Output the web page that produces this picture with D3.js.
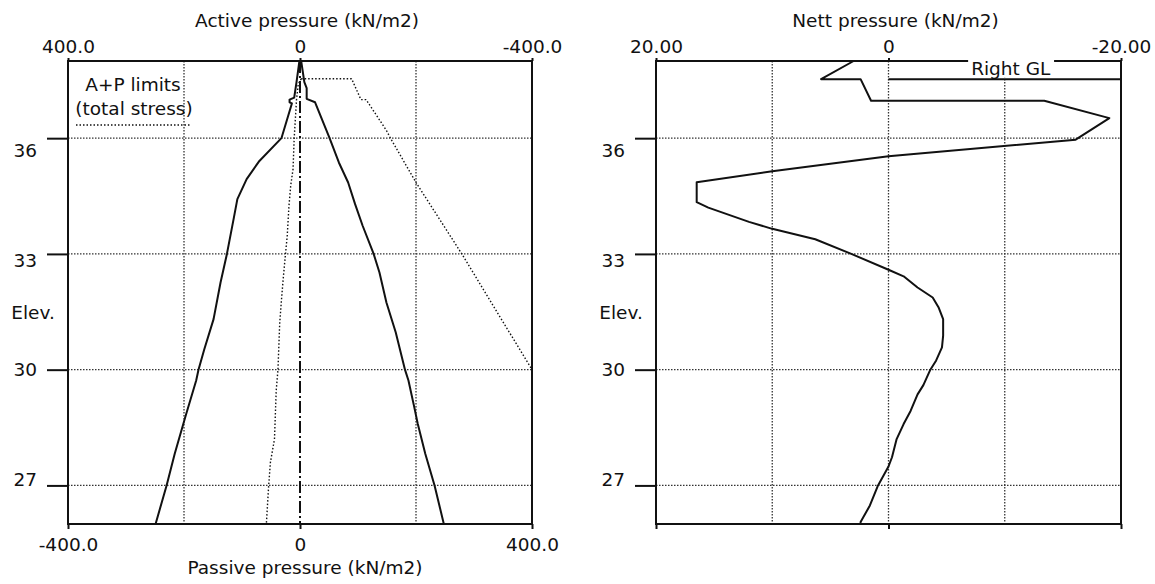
<!DOCTYPE html>
<html><head><meta charset="utf-8">
<script src="https://cdn.jsdelivr.net/npm/d3@7"></script>
<style>
body{margin:0;background:#fff}
text{font-family:"DejaVu Sans",sans-serif;font-size:18.5px;fill:#111}
</style>
</head><body>
<svg id="c" width="1155" height="584"></svg>
<script>
// ---------- data ----------
const elevDomain = [26, 38];
const elevTicks = [36, 33, 30, 27];
const elevLabel = "Elev.";

const leftTopTicks = [400, 0, -400];
const leftTopLabels = ["400.0", "0", "-400.0"];
const leftBottomTicks = [-400, 0, 400];
const leftBottomLabels = ["-400.0", "0", "400.0"];
const leftGridX = [-200, 200];
const leftTopTitle = "Active pressure (kN/m2)";
const leftBottomTitle = "Passive pressure (kN/m2)";

const rightTicks = [20, 0, -20];
const rightTopLabels = ["20.00", "0", "-20.00"];
const rightGridX = [10, 0, -10];
const rightTopTitle = "Nett pressure (kN/m2)";
const rightGLLabel = "Right GL";
const rightGL = 37.53;

const legendLines = ["A+P limits", "(total stress)"];

// [pressure, elevation]
const passiveLeft = [[-1,38],[-6,37.45],[-10,37.05],[-18,37.0],[-18,36.93],[-14,36.9],[-32,36.0],[-70,35.41],[-92,34.94],[-108,34.42],[-114,33.94],[-126,33.0],[-137,32.26],[-149,31.31],[-165,30.53],[-175,30.0],[-179,29.72],[-197,28.81],[-216,27.82],[-230,27.0],[-249,26.0]];
const activeRight = [[2,38],[7.5,37.45],[11.5,37.3],[11.5,37.02],[26,36.93],[51,36.0],[67,35.37],[83,34.85],[95,34.29],[108,33.73],[127,33.0],[137,32.52],[149,31.74],[165,30.97],[181,30.0],[187,29.72],[197,29.03],[203,28.6],[216,27.82],[232,27.0],[248,26.0]];
const limitInner = [[2,37.54],[-3,37.4],[-6,37.0],[-8,36.5],[-10,36.0],[-12,35.2],[-16,34.77],[-19,34.25],[-22,33.47],[-25,33.0],[-29,32.35],[-32,31.8],[-35,31.2],[-38,30.0],[-41,29.46],[-44,28.2],[-51,27.6],[-54,27.0],[-58,26.0]];
const limitOuter = [[2,37.54],[89,37.54],[105,37.0],[114,37.0],[149,36.2],[156,36.0],[200,34.85],[279,33.0],[400,30.0]];
const wallLine = [[0,38],[0,26]];
const nettPressure = [[3.0,38.0],[5.8,37.53],[2.4,37.53],[1.5,36.97],[-13.4,36.97],[-19.0,36.52],[-16.1,35.96],[0,35.53],[10,35.14],[16.5,34.86],[16.5,34.34],[15.5,34.2],[12.0,33.83],[10,33.65],[6.3,33.38],[3.2,33.0],[0,32.59],[-1.3,32.42],[-2.5,32.13],[-3.8,31.87],[-4.3,31.62],[-4.7,31.31],[-4.7,30.88],[-4.6,30.58],[-4.1,30.24],[-3.6,30.0],[-3.0,29.6],[-2.5,29.36],[-1.9,28.93],[-1.3,28.59],[-0.7,28.2],[-0.3,27.73],[0,27.49],[0.9,27.0],[1.6,26.48],[2.4,26.05],[2.4,26.0]];

// ---------- layout ----------
const svg = d3.select("#c");
const INK = "#111";
const yTop = 61, yBottom = 524;
const y = d3.scaleLinear().domain(elevDomain).range([yBottom, yTop]);
const labelY = d3.scaleLinear().domain([36, 27]).range([157, 485]);

const xL = d3.scaleLinear().domain([-400, 400]).range([68, 532]);
const xLTop = d3.scaleLinear().domain([400, -400]).range([68, 532]);
const xR = d3.scaleLinear().domain([20, -20]).range([656, 1121]);

function gridAndFrame(x, gridX) {
  const g = svg.append("g");
  g.selectAll(".gx").data(gridX).enter().append("line")
    .attr("x1", d => x(d)).attr("x2", d => x(d))
    .attr("y1", yTop).attr("y2", yBottom)
    .attr("stroke", "#333").attr("stroke-width", 1.3).attr("stroke-dasharray", "1.5,1.5");
  g.selectAll(".gy").data(elevTicks).enter().append("line")
    .attr("x1", x.range()[0]).attr("x2", x.range()[1])
    .attr("y1", d => y(d)).attr("y2", d => y(d))
    .attr("stroke", "#333").attr("stroke-width", 1.3).attr("stroke-dasharray", "1.5,1.5");
}

function frameAndAxes(x, xTopScale, topTicks, topLabels, bottomTicks, bottomLabels, title, bottomTitle) {
  const [x0, x1] = x.range();
  svg.append("rect").attr("x", x0).attr("y", yTop).attr("width", x1 - x0).attr("height", yBottom - yTop)
    .attr("fill", "none").attr("stroke", INK).attr("stroke-width", 2);

  const ya = svg.append("g").attr("transform", `translate(${x0},0)`)
    .call(d3.axisLeft(y).tickValues(elevTicks).tickSize(21).tickPadding(10).tickFormat(d => d));
  ya.select(".domain").remove();
  ya.selectAll(".tick line").attr("stroke", INK).attr("stroke-width", 2);
  ya.selectAll(".tick text").attr("dy", null).attr("y", d => labelY(d) - y(d));
  svg.append("text").attr("x", x0 - 35).attr("y", 319).attr("text-anchor", "middle").text(elevLabel);

  const ta = svg.append("g").attr("transform", `translate(0,${yTop})`)
    .call(d3.axisTop(xTopScale).tickValues(topTicks).tickSize(3).tickPadding(5).tickFormat((d, i) => topLabels[i]));
  ta.select(".domain").remove();
  ta.selectAll(".tick line").attr("stroke", INK).attr("stroke-width", 2);

  const ba = svg.append("g").attr("transform", `translate(0,${yBottom})`)
    .call(d3.axisBottom(x).tickValues(bottomTicks).tickSize(5).tickPadding(9)
      .tickFormat((d, i) => bottomLabels ? bottomLabels[i] : ""));
  ba.select(".domain").remove();
  ba.selectAll(".tick line").attr("stroke", INK).attr("stroke-width", 2);

  svg.append("text").attr("x", (x0 + x1) / 2 + 7).attr("y", 27).attr("text-anchor", "middle").text(title);
  if (bottomTitle) svg.append("text").attr("x", (x0 + x1) / 2 + 5).attr("y", 574).attr("text-anchor", "middle").text(bottomTitle);
}

function path(x, data, opts) {
  const line = d3.line().x(d => x(d[0])).y(d => y(d[1]));
  svg.append("path").datum(data).attr("d", line)
    .attr("fill", "none").attr("stroke", INK)
    .attr("stroke-width", opts.w || 2)
    .attr("stroke-linejoin", "round")
    .attr("stroke-dasharray", opts.dash || null);
}

// ---------- left panel ----------
gridAndFrame(xL, leftGridX);
path(xL, limitInner, {w: 1.4, dash: "1.5,2"});
path(xL, limitOuter, {w: 1.4, dash: "1.5,2"});
path(xL, wallLine, {w: 2, dash: "12,3,2,3"});
path(xL, passiveLeft, {w: 2});
path(xL, activeRight, {w: 2});
frameAndAxes(xL, xLTop, leftTopTicks, leftTopLabels, leftBottomTicks, leftBottomLabels, leftTopTitle, leftBottomTitle);

svg.append("text").attr("x", 133).attr("y", 91).attr("text-anchor", "middle").text(legendLines[0]);
svg.append("text").attr("x", 134).attr("y", 115).attr("text-anchor", "middle").text(legendLines[1]);
svg.append("line").attr("x1", 76).attr("x2", 191).attr("y1", 125).attr("y2", 125)
  .attr("stroke", INK).attr("stroke-width", 1.4).attr("stroke-dasharray", "1.5,2");

// ---------- right panel ----------
gridAndFrame(xR, rightGridX);
path(xR, nettPressure, {w: 2});
frameAndAxes(xR, xR, rightTicks, rightTopLabels, rightTicks, null, rightTopTitle, null);

svg.append("line").attr("x1", xR(0)).attr("x2", xR(-20)).attr("y1", y(rightGL)).attr("y2", y(rightGL))
  .attr("stroke", INK).attr("stroke-width", 2);
const glx = (xR(0) + xR(-20)) / 2 + 6;
const glText = svg.append("text").attr("x", glx).attr("y", 75).attr("text-anchor", "middle").text(rightGLLabel);
const bb = glText.node().getBBox();
svg.insert("rect", function(){ return glText.node(); })
  .attr("x", bb.x - 3).attr("y", bb.y - 2).attr("width", bb.width + 6).attr("height", y(rightGL) - 1.5 - (bb.y - 2))
  .attr("fill", "#fff");
</script>
</body></html>
